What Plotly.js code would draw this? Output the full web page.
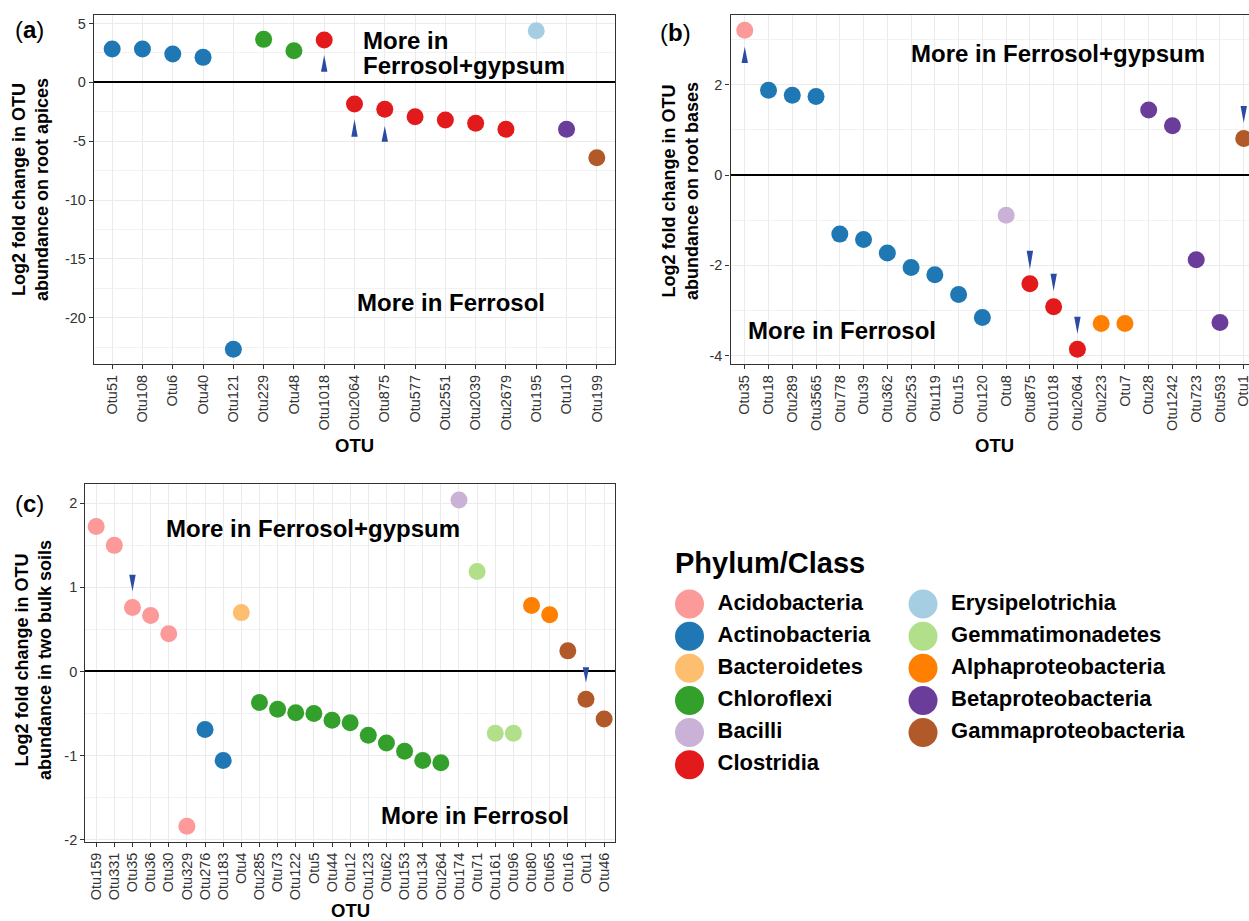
<!DOCTYPE html>
<html><head><meta charset="utf-8">
<script src="https://cdn.plot.ly/plotly-3.0.1.min.js"></script>
<style>html,body{margin:0;padding:0;overflow:hidden;background:#fff}#chart{width:1270px;height:921px}</style>
</head><body><div id="chart"></div>
<script>
// ---------- data ----------
const phyla = ['Acidobacteria','Actinobacteria','Bacteroidetes','Chloroflexi','Bacilli','Clostridia',
  'Erysipelotrichia','Gemmatimonadetes','Alphaproteobacteria','Betaproteobacteria','Gammaproteobacteria'];
const phylumColors = ['#FB9A99','#1F78B4','#FDBF6F','#33A02C','#CAB2D6','#E31A1C',
  '#A6CEE3','#B2DF8A','#FF7F00','#6A3D9A','#B15928'];

// (a) root apices
const otuA = ['Otu51','Otu108','Otu6','Otu40','Otu121','Otu229','Otu48','Otu1018','Otu2064','Otu875',
  'Otu577','Otu2551','Otu2039','Otu2679','Otu195','Otu10','Otu199'];
const lfcA = [2.83,2.83,2.40,2.12,-22.68,3.65,2.68,3.59,-1.84,-2.29,-2.92,-3.20,-3.48,-3.99,4.38,-3.99,-6.40];
const phylumA = ['Actinobacteria','Actinobacteria','Actinobacteria','Actinobacteria','Actinobacteria',
  'Chloroflexi','Chloroflexi','Clostridia','Clostridia','Clostridia','Clostridia','Clostridia','Clostridia',
  'Clostridia','Erysipelotrichia','Betaproteobacteria','Gammaproteobacteria'];
const arrowOtuA = ['Otu1018','Otu2064','Otu875'];
const arrowTipA = [2.32,-3.14,-3.71];
const arrowBaseA = [0.90,-4.62,-5.05];
const yTicksA = [-20,-15,-10,-5,0,5];
const yTickTextA = ['-20','-15','-10','-5','0','5'];

// (b) root bases
const otuB = ['Otu35','Otu18','Otu289','Otu3565','Otu778','Otu39','Otu362','Otu253','Otu119','Otu15',
  'Otu120','Otu8','Otu875','Otu1018','Otu2064','Otu223','Otu7','Otu28','Otu1242','Otu723','Otu593','Otu1'];
const lfcB = [3.21,1.88,1.77,1.74,-1.31,-1.43,-1.73,-2.05,-2.21,-2.65,-3.16,-0.89,-2.41,-2.92,-3.86,
  -3.29,-3.29,1.44,1.09,-1.88,-3.27,0.81];
const phylumB = ['Acidobacteria','Actinobacteria','Actinobacteria','Actinobacteria','Actinobacteria',
  'Actinobacteria','Actinobacteria','Actinobacteria','Actinobacteria','Actinobacteria','Actinobacteria',
  'Bacilli','Clostridia','Clostridia','Clostridia','Alphaproteobacteria','Alphaproteobacteria',
  'Betaproteobacteria','Betaproteobacteria','Betaproteobacteria','Betaproteobacteria','Gammaproteobacteria'];
const arrowOtuB = ['Otu35','Otu875','Otu1018','Otu2064','Otu1'];
const arrowTipB = [2.84,-2.09,-2.57,-3.52,1.16];
const arrowBaseB = [2.48,-1.68,-2.19,-3.14,1.53];
const yTicksB = [-4,-2,0,2];
const yTickTextB = ['-4','-2','0','2'];

// (c) bulk soils
const otuC = ['Otu159','Otu331','Otu35','Otu36','Otu30','Otu329','Otu276','Otu183','Otu4','Otu285',
  'Otu73','Otu122','Otu5','Otu44','Otu12','Otu123','Otu62','Otu153','Otu134','Otu264','Otu174','Otu71',
  'Otu161','Otu96','Otu80','Otu65','Otu16','Otu1','Otu46'];
const lfcC = [1.725,1.50,0.76,0.665,0.45,-1.84,-0.69,-1.06,0.70,-0.37,-0.45,-0.49,-0.50,-0.58,-0.61,
  -0.76,-0.85,-0.95,-1.06,-1.085,2.04,1.19,-0.735,-0.735,0.785,0.675,0.245,-0.33,-0.565];
const phylumC = ['Acidobacteria','Acidobacteria','Acidobacteria','Acidobacteria','Acidobacteria',
  'Acidobacteria','Actinobacteria','Actinobacteria','Bacteroidetes','Chloroflexi','Chloroflexi',
  'Chloroflexi','Chloroflexi','Chloroflexi','Chloroflexi','Chloroflexi','Chloroflexi','Chloroflexi',
  'Chloroflexi','Chloroflexi','Bacilli','Gemmatimonadetes','Gemmatimonadetes','Gemmatimonadetes',
  'Alphaproteobacteria','Alphaproteobacteria','Gammaproteobacteria','Gammaproteobacteria','Gammaproteobacteria'];
const arrowOtuC = ['Otu35','Otu1'];
const arrowTipC = [0.95,-0.13];
const arrowBaseC = [1.15,0.05];
const yTicksC = [-2,-1,0,1,2];
const yTickTextC = ['-2','-1','0','1','2'];

// ---------- build ----------
const W = 1270, H = 921;
const FONT = 'Liberation Sans, Arial, sans-serif';
const TRI = '#2B4BA3';
const px = x => x / W;
const py = y => 1 - y / H;
const colorOf = p => phylumColors[phyla.indexOf(p)];
const idx = arr => arr.map((_, i) => i + 1);

const traces = [];
function panel(otu, lfc, phy, xa, ya) {
  traces.push({
    type: 'scatter', mode: 'markers', x: idx(otu), y: lfc, xaxis: xa, yaxis: ya,
    marker: {size: 17, color: phy.map(colorOf), line: {width: 0}},
    text: otu, hoverinfo: 'text+y', showlegend: false
  });
}
panel(otuA, lfcA, phylumA, 'x', 'y');
panel(otuB, lfcB, phylumB, 'x2', 'y2');
panel(otuC, lfcC, phylumC, 'x3', 'y3');

// legend drawn on a hidden axis pair
traces.push({
  type: 'scatter', mode: 'markers', xaxis: 'x4', yaxis: 'y4',
  x: phyla.map((_, i) => i < 6 ? 0 : 1), y: phyla.map((_, i) => i < 6 ? i : i - 6),
  marker: {size: 29, color: phylumColors}, hoverinfo: 'skip', showlegend: false, cliponaxis: false
});
traces.push({
  type: 'scatter', mode: 'text', xaxis: 'x4', yaxis: 'y4',
  x: phyla.map((_, i) => (i < 6 ? 0 : 1) + 0.12), y: phyla.map((_, i) => i < 6 ? i : i - 6),
  text: phyla.map(p => '<b>' + p + '</b>'), textposition: 'middle right',
  textfont: {family: FONT, size: 22, color: '#000'}, hoverinfo: 'skip', showlegend: false, cliponaxis: false
});

const shapes = [];
function arrows(otu, names, tip, base, xr, yr) {
  names.forEach((n, k) => {
    const i = otu.indexOf(n) + 1;
    shapes.push({
      type: 'path', xref: xr, yref: yr, xsizemode: 'pixel', xanchor: i,
      path: `M-3.2,${base[k]}L3.2,${base[k]}L0,${tip[k]}Z`,
      fillcolor: TRI, line: {width: 0}, layer: 'above'
    });
  });
}
arrows(otuA, arrowOtuA, arrowTipA, arrowBaseA, 'x', 'y');
arrows(otuB, arrowOtuB, arrowTipB, arrowBaseB, 'x2', 'y2');
arrows(otuC, arrowOtuC, arrowTipC, arrowBaseC, 'x3', 'y3');

function xax(dom, otu, anchor) {
  return {
    domain: dom, anchor: anchor, range: [0.4, otu.length + 0.6],
    tickvals: idx(otu), ticktext: otu, tickangle: -90,
    tickfont: {family: FONT, size: 14.5, color: '#333'},
    ticks: 'outside', ticklen: 4, tickwidth: 1, tickcolor: '#333',
    showgrid: true, gridcolor: '#EBEBEB', gridwidth: 1.2, zeroline: false,
    showline: true, mirror: true, linecolor: '#333', linewidth: 1.3, fixedrange: true
  };
}
function yax(dom, rng, tv, tt, minor, anchor) {
  return {
    domain: dom, anchor: anchor, range: rng, tickvals: tv, ticktext: tt,
    tickfont: {family: FONT, size: 14.5, color: '#333'},
    ticks: 'outside', ticklen: 4, tickwidth: 1, tickcolor: '#333',
    showgrid: true, gridcolor: '#EBEBEB', gridwidth: 1.2,
    minor: {dtick: minor, tick0: 0, showgrid: true, gridcolor: '#F2F2F2', gridwidth: 0.7, ticks: ''},
    zeroline: true, zerolinecolor: '#000', zerolinewidth: 1.6,
    showline: true, mirror: true, linecolor: '#333', linewidth: 1.3, fixedrange: true
  };
}

const ann = [];
function txt(t, x, y, size, opts) {
  ann.push(Object.assign({text: t, x: px(x), y: py(y), xref: 'paper', yref: 'paper', showarrow: false,
    xanchor: 'center', yanchor: 'middle', font: {family: FONT, size: size, color: '#000'}}, opts || {}));
}
// panel tags
txt('(<b>a</b>)', 13, 29, 24, {xanchor: 'left'});
txt('(<b>b</b>)', 658, 32, 24, {xanchor: 'left'});
txt('(<b>c</b>)', 13, 503, 24, {xanchor: 'left'});
// region labels
txt('<b>More in</b>', 361, 40.5, 24, {xanchor: 'left'});
txt('<b>Ferrosol+gypsum</b>', 361, 65, 24, {xanchor: 'left'});
txt('<b>More in Ferrosol</b>', 451, 303, 24);
txt('<b>More in Ferrosol+gypsum</b>', 1058, 53, 24);
txt('<b>More in Ferrosol</b>', 842, 331, 24);
txt('<b>More in Ferrosol+gypsum</b>', 313, 528, 24);
txt('<b>More in Ferrosol</b>', 474.5, 815.5, 24);
// axis titles
txt('<b>Log2 fold change in OTU<br>abundance on root apices</b>', 31, 190, 18, {textangle: -90});
txt('<b>Log2 fold change in OTU<br>abundance on root bases</b>', 681, 191, 18, {textangle: -90});
txt('<b>Log2 fold change in OTU<br>abundance in two bulk soils</b>', 33, 660, 18, {textangle: -90});
txt('<b>OTU</b>', 354.5, 445, 18.5);
txt('<b>OTU</b>', 994, 445, 18.5);
txt('<b>OTU</b>', 351, 910.5, 18.5);
// legend title
txt('<b>Phylum/Class</b>', 673, 563, 29, {xanchor: 'left'});

const layout = {
  width: W, height: H, margin: {l: 0, r: 0, t: 0, b: 0},
  paper_bgcolor: '#fff', plot_bgcolor: '#fff', showlegend: false, hovermode: 'closest',
  font: {family: FONT},
  xaxis: xax([px(94), px(615)], otuA, 'y'),
  yaxis: yax([py(364), py(15)], [-23.93, 5.72], yTicksA, yTickTextA, 2.5, 'x'),
  xaxis2: xax([px(730.5), px(1258)], otuB, 'y2'),
  yaxis2: yax([py(364.3), py(14.7)], [-4.195, 3.553], yTicksB, yTickTextB, 1, 'x2'),
  xaxis3: xax([px(85.3), px(615)], otuC, 'y3'),
  yaxis3: yax([py(841.7), py(484)], [-2.025, 2.23], yTicksC, yTickTextC, 0.5, 'x3'),
  xaxis4: {domain: [px(650), px(1249)], anchor: 'y4', range: [-0.1692, 2.396], visible: false, fixedrange: true},
  yaxis4: {domain: [py(790), py(580)], anchor: 'x4', range: [5.785, -0.7465], visible: false, fixedrange: true},
  shapes: shapes, annotations: ann
};
Plotly.newPlot('chart', traces, layout, {displayModeBar: false, responsive: false});
</script></body></html>
